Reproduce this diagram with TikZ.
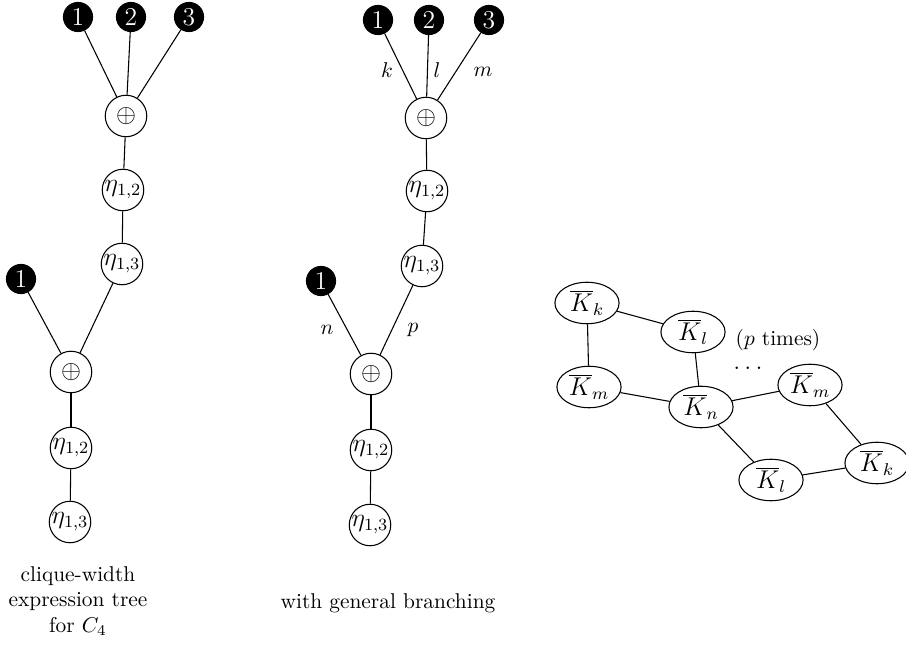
\documentclass[tikz,border=0pt]{standalone}
\usetikzlibrary{shapes.geometric}
\begin{document}
\begin{tikzpicture}[x=0.4675pt,y=-0.4675pt,
  leaf/.style={circle,fill=black,draw=black,text=white,minimum size=13.6pt,inner sep=0pt,font=\large},
  op/.style={circle,draw,minimum size=19.4pt,inner sep=0pt,font=\large},
  kn/.style={ellipse,draw,minimum width=30pt,minimum height=19.4pt,inner sep=0pt,font=\large},
  lbl/.style={inner sep=0pt},
  every path/.style={line width=0.5pt}]
\useasboundingbox (0,0) rectangle (906,651);
% left tree
\node[leaf] (a1) at (78,17) {1};
\node[leaf] (a2) at (131,17) {2};
\node[leaf] (a3) at (189,17) {3};
\node[op] (ap1) at (126,116) {$\oplus$};
\node[op] (ae1) at (123,190) {$\eta_{1,2}$};
\node[op] (ae2) at (122,264) {$\eta_{1,3}$};
\node[leaf] (a4) at (21,279) {1};
\node[op] (ap2) at (71,372) {$\oplus$};
\node[op] (ae3) at (71,448) {$\eta_{1,2}$};
\node[op] (ae4) at (70,522) {$\eta_{1,3}$};
\draw (a1) -- (ap1); \draw (a2) -- (ap1); \draw (a3) -- (ap1);
\draw (ap1) -- (ae1); \draw (ae1) -- (ae2); \draw (ae2) -- (ap2);
\draw (a4) -- (ap2); \draw (ap2) -- (ae3); \draw (ae3) -- (ae4);
\node[align=center,inner sep=0pt] (cap1) at (78,601) {clique-width\\expression tree\\for $C_4$};
% middle tree
\node[leaf] (b1) at (378,20) {1};
\node[leaf] (b2) at (429,20) {2};
\node[leaf] (b3) at (489,20) {3};
\node[op] (bp1) at (426,118) {$\oplus$};
\node[op] (be1) at (427,191) {$\eta_{1,2}$};
\node[op] (be2) at (422,266) {$\eta_{1,3}$};
\node[leaf] (b4) at (321,281) {1};
\node[op] (bp2) at (371,374) {$\oplus$};
\node[op] (be3) at (371,450) {$\eta_{1,2}$};
\node[op] (be4) at (370,525) {$\eta_{1,3}$};
\draw (b1) -- (bp1); \draw (b2) -- (bp1); \draw (b3) -- (bp1);
\draw (bp1) -- (be1); \draw (be1) -- (be2); \draw (be2) -- (bp2);
\draw (b4) -- (bp2); \draw (bp2) -- (be3); \draw (be3) -- (be4);
\node[lbl] (lk) at (387,70) {$k$};
\node[lbl] (ll) at (437,70) {$l$};
\node[lbl] (lm) at (483,72) {$m$};
\node[lbl] (ln) at (327,330) {$n$};
\node[lbl] (lp) at (413,330) {$p$};
\node[inner sep=0pt] (cap2) at (388,603) {with general branching};
% right graph
\node[kn] (kk) at (587,303) {$\overline{K}_k$};
\node[kn] (kl) at (693,332) {$\overline{K}_l$};
\node[kn] (km) at (589,387) {$\overline{K}_m$};
\node[kn] (kn) at (701,407) {$\overline{K}_n$};
\node[kn] (km2) at (810,385) {$\overline{K}_m$};
\node[kn] (kk2) at (877,463) {$\overline{K}_k$};
\node[kn] (kl2) at (771,480) {$\overline{K}_l$};
\node[lbl] (pt) at (778,340) {($p$ times)};
\node[lbl,font=\large,anchor=base] (dots) at (748,370) {$\ldots$};
\draw (kk) -- (kl); \draw (kk) -- (km); \draw (kl) -- (kn);
\draw (km) -- (kn); \draw (kn) -- (km2); \draw (kn) -- (kl2);
\draw (km2) -- (kk2); \draw (kl2) -- (kk2);
\end{tikzpicture}
\end{document}
